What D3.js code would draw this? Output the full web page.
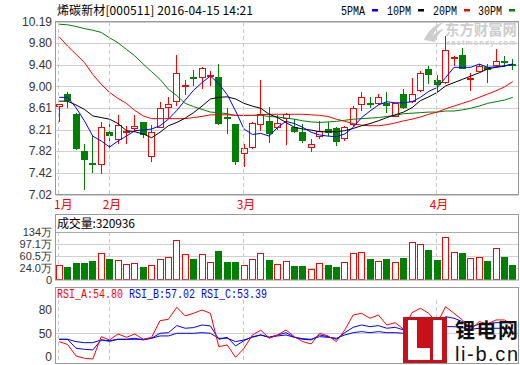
<!DOCTYPE html>
<html><head><meta charset="utf-8">
<script src="https://cdn.jsdelivr.net/npm/d3@7"></script>
<style>body{margin:0;background:#fff}svg{display:block}</style>
</head><body><svg id="c" width="520" height="365"></svg>
<script>
const dates = ["2016-01-22","2016-01-25","2016-01-26","2016-01-27","2016-01-28","2016-01-29","2016-02-01","2016-02-02","2016-02-03","2016-02-04","2016-02-05","2016-02-15","2016-02-16","2016-02-17","2016-02-18","2016-02-19","2016-02-22","2016-02-23","2016-02-24","2016-02-25","2016-02-26","2016-02-29","2016-03-01","2016-03-02","2016-03-03","2016-03-04","2016-03-07","2016-03-08","2016-03-09","2016-03-10","2016-03-11","2016-03-14","2016-03-15","2016-03-16","2016-03-17","2016-03-18","2016-03-21","2016-03-22","2016-03-23","2016-03-24","2016-03-25","2016-03-28","2016-03-29","2016-03-30","2016-03-31","2016-04-01","2016-04-05","2016-04-06","2016-04-07","2016-04-08","2016-04-11","2016-04-12","2016-04-13","2016-04-14","2016-04-15"];
const open = [8.64,8.86,8.50,7.82,7.60,7.58,8.16,8.03,8.16,8.23, 8.34,7.73,8.25,8.63,8.74,9.02,9.17,9.17,9.19,9.18, 8.44,8.31,7.78,7.89,8.32,8.37,8.26,8.43,8.25,8.16, 7.89,8.09,8.22,8.23,8.05,8.32,8.67,8.70,8.70,8.70, 8.46,8.87,8.74,8.94,9.32,9.12,9.08,9.52,9.57,9.14, 9.28,9.36,9.40,9.47,9.42];
const high = [8.68,8.89,8.51,7.95,8.09,8.34,8.32,8.48,8.28,8.47, 8.35,8.30,8.72,8.80,9.57,9.12,9.30,9.35,9.28,9.41, 8.61,8.31,7.94,8.34,9.11,8.63,8.47,8.52,8.40,8.31, 8.03,8.37,8.34,8.25,8.28,8.65,8.89,8.81,8.87,8.89, 8.70,8.96,9.16,9.28,9.38,9.21,9.93,9.56,9.70,9.24, 9.42,9.41,9.69,9.55,9.50];
const low = [8.34,8.60,7.84,7.10,7.41,7.39,7.88,7.95,7.94,8.16, 8.05,7.62,8.24,8.43,8.65,8.85,9.01,8.95,9.01,8.30, 8.13,7.56,7.53,7.85,8.19,7.96,8.20,7.93,8.14,7.97, 7.79,8.03,8.09,7.90,8.00,8.25,8.55,8.60,8.66,8.52, 8.44,8.58,8.70,8.89,9.04,8.89,9.04,9.38,9.32,8.92, 9.28,9.07,9.38,9.35,9.31];
const close = [8.67,8.74,7.85,7.65,7.58,8.26,8.09,8.30,8.18,8.27, 8.11,8.17,8.61,8.68,9.24,9.03,9.16,9.33,9.21,8.31, 8.43,7.62,7.88,8.33,8.49,8.13,8.33,8.49,8.17,8.00, 7.94,8.19,8.14,7.98,8.25,8.61,8.81,8.69,8.80,8.64, 8.69,8.60,8.87,9.25,9.21,9.02,9.67,9.54,9.32,9.15, 9.37,9.30,9.47,9.46,9.37];
const ma5 = [8.80,8.80,8.61,8.37,8.09,8.00,7.89,8.00,8.09,8.19, 8.20,8.22,8.28,8.40,8.56,8.75,8.93,9.07,9.19,9.05, 8.85,8.55,8.22,8.12,8.14,8.09,8.25,8.36,8.32,8.25, 8.16,8.11,8.09,8.08,8.13,8.25,8.43,8.55,8.66,8.72, 8.70,8.70,8.72,8.80,8.91,8.98,9.16,9.35,9.35,9.35, 9.41,9.35,9.36,9.38,9.41];
const ma10 = [8.73,8.73,8.66,8.58,8.46,8.43,8.40,8.32,8.19,8.17, 8.13,8.06,8.16,8.28,8.34,8.42,8.52,8.64,8.77,8.80, 8.81,8.77,8.69,8.64,8.60,8.49,8.43,8.34,8.25,8.22, 8.20,8.17,8.17,8.17,8.19,8.23,8.28,8.32,8.37,8.43, 8.48,8.53,8.61,8.74,8.81,8.89,9.01,9.07,9.13,9.19, 9.25,9.32,9.35,9.37,9.41];
const ma20 = [9.91,9.74,9.59,9.44,9.22,9.04,8.89,8.78,8.69,8.56, 8.46,8.41,8.41,8.41,8.41,8.41,8.43,8.45,8.48,8.48, 8.48,8.47,8.47,8.47,8.48,8.49,8.49,8.49,8.49,8.49, 8.48,8.47,8.45,8.40,8.36,8.32,8.29,8.28,8.28,8.30, 8.33,8.37,8.40,8.44,8.49,8.53,8.59,8.64,8.69,8.74, 8.80,8.86,8.92,8.99,9.09];
const ma30 = [10.14,10.13,10.10,10.06,10.03,9.99,9.89,9.80,9.68,9.56, 9.41,9.27,9.13,8.95,8.83,8.69,8.63,8.58,8.53,8.52, 8.50,8.47,8.47,8.47,8.47,8.45,8.44,8.42,8.40,8.37, 8.35,8.34,8.35,8.36,8.38,8.40,8.41,8.42,8.43,8.45, 8.47,8.50,8.51,8.52,8.53,8.53,8.55,8.55,8.57,8.60, 8.64,8.69,8.72,8.75,8.80];
const volume = [33.4,26.3,40.4,40.4,45.6,69.0,51.7,47.7,35.5,39.5, 27.3,33.4,50.7,56.8,108.7,66.0,51.7,66.0,42.5,76.0, 42.5,42.5,32.4,50.7,69.0,48.6,35.5,44.6,30.3,30.3, 20.2,38.5,33.4,27.3,41.6,69.0,72.0,51.7,44.6,51.7, 41.6,54.7,102.6,96.5,79.1,48.6,117.8,72.0,70.0,53.8, 56.8,45.6,84.3,57.8,32.1];
const rsiA = [39.6,36.0,21.7,18.8,17.9,45.8,41.7,49.2,45.0,49.2, 42.5,45.0,65.8,67.5,82.5,71.7,75.0,79.2,75.0,33.3, 35.4,20.0,31.3,47.9,54.0,43.8,47.9,54.2,45.8,39.6, 36.7,50.0,46.7,39.6,54.2,72.9,75.0,68.8,72.9,60.4, 63.3,55.0,75.8,81.3,75.0,62.5,83.3,75.0,66.7,55.0, 64.6,61.7,66.7,66.7,60.4];
const rsiB = [42.5,42.5,31.3,30.0,29.2,41.7,40.8,42.5,42.5,43.8, 41.7,43.8,50.0,50.8,59.6,56.3,57.1,60.4,59.2,42.5, 45.0,34.2,40.8,45.8,47.9,45.0,47.9,50.8,45.0,42.5, 41.7,47.9,45.8,42.5,50.8,57.5,60.4,58.3,59.6,56.3, 57.5,54.2,62.5,64.6,63.3,58.3,70.8,68.8,64.6,57.5, 61.7,62.5,63.3,63.3,63.3];
const rsiC = [42.5,42.5,39.6,38.3,38.3,41.7,40.0,42.5,42.5,42.5, 42.5,43.8,46.7,46.7,50.0,50.0,50.0,50.8,50.0,43.8, 43.8,39.6,41.7,45.0,47.9,45.0,46.7,47.9,45.0,43.3, 42.5,45.8,45.0,43.8,47.9,50.8,52.1,50.8,52.1,50.8, 50.8,50.0,54.2,55.0,55.0,54.2,58.3,58.3,57.1,55.0, 56.3,56.3,56.3,56.3,56.3];
const priceTicks = [7.02,7.42,7.82,8.21,8.61,9.00,9.40,9.80,10.19];
const volTicks = [24.0,60.5,97.1,134];
const rsiTicks = [50,80];
const maNames = ["5PMA","10PM","20PM","30PM"];
const maColors = ["#0000ff","#000000","#ff0000","#008000"];
const title = "烯碳新材[000511] 2016-04-15 14:21";
const volLabel = "成交量:320936";
const rsiLabels = ["RSI_A:54.80","RSI_B:57.02","RSI_C:53.39"];

const svg = d3.select("#c");
const L = 55.5, R = 518.5;
const x = d3.scaleBand().domain(dates).range([55, 517]);
const cx = d => x(d) + x.bandwidth()/2;
const yP = d3.scaleLinear().domain([7.02, 10.19]).range([194.5, 21.5]);
const yV = d3.scaleLinear().domain([-12.4, 134]).range([280, 232]);
const yR = d3.scaleLinear().domain([20, 80]).range([357.3, 309.3]);
const idx = d3.range(dates.length);
const up = i => close[i] >= open[i];
const RED = "#ff0000", GREEN = "#008000";
const numFont = "'Liberation Sans', Arial, sans-serif";
const cjk = "'Noto Sans CJK SC', sans-serif";

const monthStarts = idx.filter(i => i === 0 || dates[i].slice(5,7) !== dates[i-1].slice(5,7));
const monthLabel = i => (+dates[i].slice(5,7)) + "月";

// ---------- main panel ----------
const g = svg.append("g");
g.selectAll("line.grid").data(priceTicks).join("line")
  .attr("x1", L).attr("x2", R)
  .attr("y1", d => Math.round(yP(d)) + 0.5).attr("y2", d => Math.round(yP(d)) + 0.5)
  .attr("stroke", "#d0d0d0");
monthStarts.forEach(i => {
  const xx = Math.round(cx(dates[i])) - 0.5;
  [[22, 194], [232, 280], [300, 363]].forEach(([a, b]) =>
    svg.append("line").attr("x1", xx).attr("x2", xx).attr("y1", a).attr("y2", b)
      .attr("stroke", "#c8c8c8").attr("stroke-dasharray", "4,3"));
});
// watermark
const wm = svg.append("g").attr("fill", "#cdcdcd");
wm.append("path").attr("d", "M424,40 C428,30 436,24 444,22 C438,27 434,31 433,36 C436,32 440,29 444,29 C439,33 436,37 435,42 Z");
wm.append("text").attr("x", 445).attr("y", 35).attr("font-family", cjk).attr("font-weight", "bold")
  .attr("font-size", 15).attr("textLength", 72).attr("lengthAdjust", "spacingAndGlyphs").text("东方财富网");
wm.append("text").attr("x", 446).attr("y", 45).attr("font-family", numFont).attr("font-weight", "bold")
  .attr("font-size", 7.5).attr("textLength", 70).text("eastmoney.com");

g.selectAll("text.py").data(priceTicks).join("text")
  .attr("x", 52).attr("y", d => yP(d) + 4.3).attr("text-anchor", "end")
  .attr("font-family", numFont).attr("font-size", 12).attr("fill", "#333")
  .text(d => d.toFixed(2));

// candles
const cg = g.append("g");
idx.forEach(i => {
  const c = up(i) ? RED : GREEN;
  const left = Math.round(cx(dates[i]) - 3.5);
  const wx = left + 3.5;
  const yo = Math.round(yP(open[i])), yc = Math.round(yP(close[i]));
  const yh = Math.round(yP(high[i])), yl = Math.round(yP(low[i]));
  if (up(i)) {
    const top = yc, bot = Math.max(yo, yc + 1);
    cg.append("line").attr("x1", wx).attr("x2", wx).attr("y1", yh).attr("y2", top).attr("stroke", c);
    cg.append("line").attr("x1", wx).attr("x2", wx).attr("y1", bot + 1).attr("y2", yl).attr("stroke", c);
    cg.append("rect").attr("x", left + 0.5).attr("y", top + 0.5).attr("width", 6).attr("height", bot - top)
      .attr("fill", "#fff").attr("stroke", c);
  } else {
    cg.append("line").attr("x1", wx).attr("x2", wx).attr("y1", yh).attr("y2", yl).attr("stroke", c);
    cg.append("rect").attr("x", left).attr("y", yo).attr("width", 7).attr("height", Math.max(2, yc - yo))
      .attr("fill", c);
  }
});
[ma30, ma20, ma10, ma5].forEach((arr, k) => {
  g.append("path").datum(idx).attr("fill", "none").attr("stroke", maColors[3 - k]).attr("stroke-width", 1)
    .attr("d", d3.line().x(i => cx(dates[i])).y(i => yP(arr[i])));
});
g.append("rect").attr("x", L).attr("y", 21.5).attr("width", R - L).attr("height", 173)
  .attr("fill", "none").attr("stroke", "#999");

// title + legend
svg.append("text").attr("x", 57).attr("y", 14.5).attr("font-family", cjk).attr("font-size", 12)
  .attr("textLength", 196).attr("fill", "#000").text(title);
const legX = [341, 387, 433, 478];
maNames.forEach((n, k) => {
  svg.append("text").attr("x", legX[k]).attr("y", 14.5).attr("font-family", "'Liberation Mono', monospace")
    .attr("font-size", 12).attr("textLength", 24).attr("lengthAdjust", "spacingAndGlyphs").attr("fill", "#000").text(n);
  svg.append("rect").attr("x", legX[k] + 31).attr("y", 9).attr("width", 6).attr("height", 2.5).attr("fill", maColors[k]);
});

monthStarts.forEach((i, k) => {
  const xx = Math.round(cx(dates[i]));
  svg.append("text").attr("x", k === 0 ? 54 : xx + 2).attr("y", 209)
    .attr("text-anchor", k === 0 ? "start" : "middle")
    .attr("font-family", cjk).attr("font-size", 12).attr("fill", RED).text(monthLabel(i));
});

// ---------- volume panel ----------
const vg = svg.append("g");
vg.selectAll("line.vg").data(volTicks).join("line")
  .attr("x1", L).attr("x2", R)
  .attr("y1", d => Math.round(yV(d)) + 0.5).attr("y2", d => Math.round(yV(d)) + 0.5)
  .attr("stroke", d => d === 134 ? "#aaa" : "#d0d0d0");
idx.forEach(i => {
  const left = Math.round(cx(dates[i]) - 3.5);
  const top = Math.round(yV(volume[i])), base = yV.range()[0];
  if (up(i)) {
    vg.append("rect").attr("x", left + 0.5).attr("y", top + 0.5).attr("width", 6).attr("height", base - top - 1)
      .attr("fill", "#fff").attr("stroke", RED);
  } else {
    vg.append("rect").attr("x", left).attr("y", top).attr("width", 7).attr("height", base - top).attr("fill", GREEN);
  }
});
vg.append("rect").attr("x", L).attr("y", 214.5).attr("width", R - L).attr("height", 65.5)
  .attr("fill", "none").attr("stroke", "#999");
vg.append("text").attr("x", 57).attr("y", 228).attr("font-family", cjk).attr("font-size", 12)
  .attr("textLength", 78).attr("fill", "#000").text(volLabel);
vg.selectAll("text.vy").data(volTicks).join("text")
  .attr("x", 52).attr("y", d => yV(d) + 4).attr("text-anchor", "end")
  .attr("font-family", numFont).attr("font-size", 11).attr("fill", "#333")
  .text(d => (d >= 100 ? d3.format(".0f")(d) : d.toFixed(1)) + "万");
vg.append("text").attr("x", 52).attr("y", 284).attr("text-anchor", "end")
  .attr("font-family", numFont).attr("font-size", 11).attr("fill", "#333").text("0");

// ---------- RSI panel ----------
const rg = svg.append("g");
rg.selectAll("line.rg").data(rsiTicks).join("line")
  .attr("x1", L).attr("x2", R)
  .attr("y1", d => Math.round(yR(d)) + 0.5).attr("y2", d => Math.round(yR(d)) + 0.5)
  .attr("stroke", d => d === 50 ? "#d0d0d0" : "none");
[[rsiC, "#0000ff"], [rsiB, "#0000ff"], [rsiA, RED]].forEach(([arr, col]) => {
  rg.append("path").datum(idx).attr("fill", "none").attr("stroke", col).attr("stroke-width", 1)
    .attr("d", d3.line().x(i => cx(dates[i])).y(i => yR(arr[i])));
});
rg.append("rect").attr("x", L).attr("y", 287.5).attr("width", R - L).attr("height", 76)
  .attr("fill", "none").attr("stroke", "#999");
[57, 129, 201].forEach((xx, k) => {
  rg.append("text").attr("x", xx).attr("y", 298).attr("font-family", "'Liberation Mono', monospace")
    .attr("font-size", 12).attr("textLength", 66).attr("lengthAdjust", "spacingAndGlyphs")
    .attr("fill", k === 0 ? RED : "#0000ff").text(rsiLabels[k]);
});
rg.selectAll("text.ry").data(rsiTicks).join("text")
  .attr("x", 52).attr("y", d => yR(d) + 4.5).attr("text-anchor", "end")
  .attr("font-family", numFont).attr("font-size", 12).attr("fill", "#333").text(d => d);
rg.append("text").attr("x", 52).attr("y", yR(20) + 4).attr("text-anchor", "end")
  .attr("font-family", numFont).attr("font-size", 12).attr("fill", "#333").text("0");

// li-b.cn logo
const lg = svg.append("g");
lg.append("rect").attr("x", 403).attr("y", 317).attr("width", 44).attr("height", 46).attr("fill", "#c8101a");
lg.append("path").attr("fill", "#fff").attr("d", "M408,320 h9 v28 h13 v12 h-22 Z M433,320 h9 v40 h-9 Z");
lg.append("text").attr("x", 455).attr("y", 338).attr("font-family", cjk).attr("font-weight", "bold")
  .attr("font-size", 20).attr("textLength", 63).attr("fill", "#111").text("锂电网");
lg.append("text").attr("x", 455).attr("y", 361).attr("font-family", numFont)
  .attr("font-size", 20).attr("textLength", 63).attr("fill", "#111").text("li-b.cn");
</script></body></html>
